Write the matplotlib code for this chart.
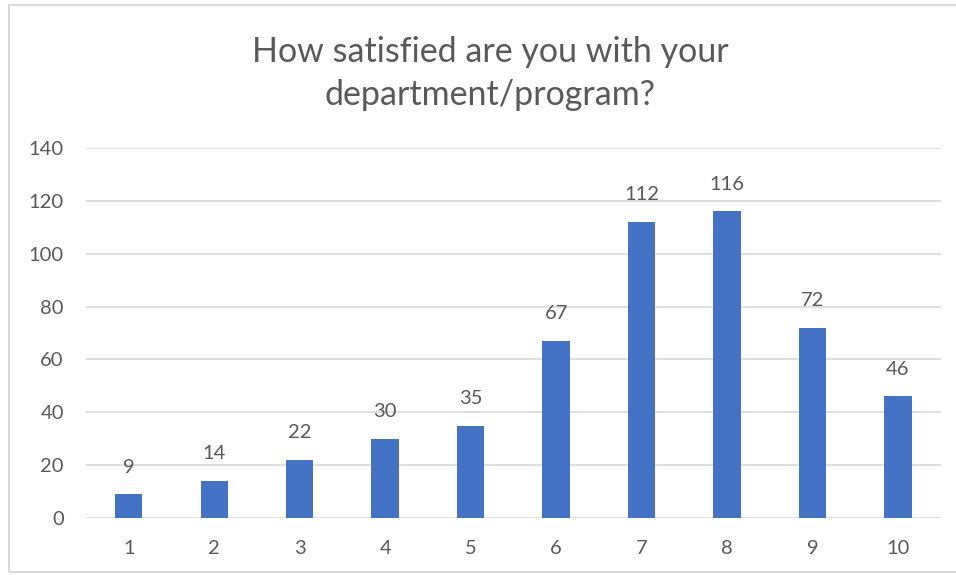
import matplotlib.pyplot as plt
from matplotlib.patches import Rectangle

# Survey responses, rating 1-10
ratings = ['1', '2', '3', '4', '5', '6', '7', '8', '9', '10']
counts = [9, 14, 22, 30, 35, 67, 112, 116, 72, 46]

plt.rcParams['font.family'] = ['Lato', 'DejaVu Sans']
text_col = '#595959'
grid_col = '#D9D9D9'
bar_col = '#4472C4'

fig = plt.figure(figsize=(9.56, 5.75), dpi=100)
ax = fig.add_axes([0.090, 0.0991, 0.894, 0.6435])

x = range(1, len(ratings) + 1)
ax.bar(x, counts, width=0.32, color=bar_col, zorder=3)

for xi, c in zip(x, counts):
    ax.annotate(str(c), (xi, c), xytext=(0, 19.5), textcoords='offset points',
                ha='center', va='center', fontsize=14.5, color=text_col)

ax.set_xlim(0.5, 10.5)
ax.set_ylim(0, 140)
ax.set_yticks(range(0, 141, 20))
ax.set_xticks(list(x))
ax.set_xticklabels(ratings)
ax.grid(axis='y', color=grid_col, linewidth=1.2, zorder=0)
for s in ax.spines.values():
    s.set_visible(False)
ax.tick_params(length=0, labelsize=14.5, labelcolor=text_col)
ax.tick_params(axis='y', pad=16)
ax.tick_params(axis='x', pad=16)

fig.text(0.5126, 0.872, 'How satisfied are you with your\ndepartment/program?',
         ha='center', va='center', fontsize=24.5, color=text_col, linespacing=1.42)

# light frame around the chart area
fig.patches.append(Rectangle((9 / 956, 3 / 575), 1.1, 567 / 575, transform=fig.transFigure,
                             fill=False, edgecolor='#D9D9D9', linewidth=1.5))

plt.savefig('out.png', dpi=100)
